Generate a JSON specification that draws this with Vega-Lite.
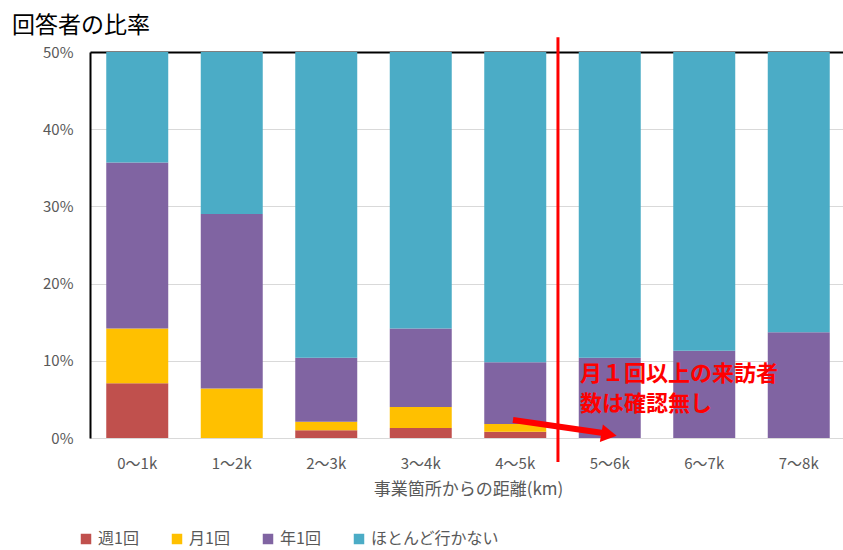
{
  "$schema": "https://vega.github.io/schema/vega-lite/v6.json",
  "autosize": "none",
  "width": 756,
  "height": 386,
  "padding": {"left": 90, "top": 52, "right": 0, "bottom": 112},
  "background": "white",
  "config": {"font": "Noto Sans CJK JP", "view": {"stroke": null}},
  "title": {"text": "回答者の比率", "anchor": "start", "frame": "group", "dx": -78, "offset": -2, "fontSize": 23, "fontWeight": "normal", "color": "#000000"},
  "datasets": {
    "bars": [
      {"dist": "0〜1k", "cat": "週1回", "ord": 1, "val": 7.1},
      {"dist": "0〜1k", "cat": "月1回", "ord": 2, "val": 7.1},
      {"dist": "0〜1k", "cat": "年1回", "ord": 3, "val": 21.5},
      {"dist": "0〜1k", "cat": "ほとんど行かない", "ord": 4, "val": 14.3},
      {"dist": "1〜2k", "cat": "週1回", "ord": 1, "val": 0},
      {"dist": "1〜2k", "cat": "月1回", "ord": 2, "val": 6.4},
      {"dist": "1〜2k", "cat": "年1回", "ord": 3, "val": 22.6},
      {"dist": "1〜2k", "cat": "ほとんど行かない", "ord": 4, "val": 21.0},
      {"dist": "2〜3k", "cat": "週1回", "ord": 1, "val": 1.0},
      {"dist": "2〜3k", "cat": "月1回", "ord": 2, "val": 1.1},
      {"dist": "2〜3k", "cat": "年1回", "ord": 3, "val": 8.3},
      {"dist": "2〜3k", "cat": "ほとんど行かない", "ord": 4, "val": 39.6},
      {"dist": "3〜4k", "cat": "週1回", "ord": 1, "val": 1.3},
      {"dist": "3〜4k", "cat": "月1回", "ord": 2, "val": 2.7},
      {"dist": "3〜4k", "cat": "年1回", "ord": 3, "val": 10.2},
      {"dist": "3〜4k", "cat": "ほとんど行かない", "ord": 4, "val": 35.8},
      {"dist": "4〜5k", "cat": "週1回", "ord": 1, "val": 0.8},
      {"dist": "4〜5k", "cat": "月1回", "ord": 2, "val": 1.0},
      {"dist": "4〜5k", "cat": "年1回", "ord": 3, "val": 8.0},
      {"dist": "4〜5k", "cat": "ほとんど行かない", "ord": 4, "val": 40.2},
      {"dist": "5〜6k", "cat": "年1回", "ord": 3, "val": 10.4},
      {"dist": "5〜6k", "cat": "ほとんど行かない", "ord": 4, "val": 39.6},
      {"dist": "6〜7k", "cat": "年1回", "ord": 3, "val": 11.3},
      {"dist": "6〜7k", "cat": "ほとんど行かない", "ord": 4, "val": 38.7},
      {"dist": "7〜8k", "cat": "年1回", "ord": 3, "val": 13.7},
      {"dist": "7〜8k", "cat": "ほとんど行かない", "ord": 4, "val": 36.3}
    ],
    "vline": [{"x": 4.952, "y": 51.9, "y2": -3.1}],
    "shaft": [{"x": 4.476, "y": 2.33, "x2": 5.43, "y2": 0.65}],
    "head": [{"x": 5.492, "y": 0.45}],
    "note": [
      {"x": 5.185, "y": 8.35, "label": "月１回以上の来訪者"},
      {"x": 5.185, "y": 4.45, "label": "数は確認無し"}
    ]
  },
  "layer": [
    {
      "data": {"name": "bars"},
      "mark": {"type": "bar"},
      "encoding": {
        "x": {
          "field": "dist", "type": "nominal",
          "sort": ["0〜1k", "1〜2k", "2〜3k", "3〜4k", "4〜5k", "5〜6k", "6〜7k", "7〜8k"],
          "scale": {"paddingInner": 0.344, "paddingOuter": 0.172},
          "axis": {"title": "事業箇所からの距離(km)", "labelAngle": 0, "ticks": false, "domainColor": "#d9d9d9", "domainWidth": 1, "labelFontSize": 15, "labelColor": "#595959", "labelPadding": 18, "titleFontSize": 17, "titleFontWeight": "normal", "titleColor": "#595959", "titlePadding": 10}
        },
        "y": {
          "field": "val", "type": "quantitative", "stack": "zero",
          "scale": {"domain": [0, 50], "nice": false},
          "axis": {"values": [0, 10, 20, 30, 40, 50], "labelExpr": "datum.value + '%'", "title": null, "ticks": false, "domainColor": "#000000", "domainWidth": 2, "gridColor": "#d9d9d9", "labelFontSize": 15, "labelColor": "#595959", "labelPadding": 17}
        },
        "color": {
          "field": "cat", "type": "nominal",
          "scale": {"domain": ["週1回", "月1回", "年1回", "ほとんど行かない"], "range": ["#C0504D", "#FFC000", "#8064A2", "#4BACC6"]},
          "legend": {"orient": "none", "legendX": -12, "legendY": 479, "direction": "horizontal", "title": null, "symbolType": "square", "symbolSize": 110, "symbolStrokeWidth": 0, "labelFontSize": 16, "labelColor": "#595959", "columnPadding": 30, "labelOffset": 4}
        },
        "order": {"field": "ord", "type": "quantitative"}
      }
    },
    {
      "data": {"name": "vline"},
      "mark": {"type": "rule", "color": "#FF0000", "strokeWidth": 3},
      "encoding": {
        "x": {"field": "x", "type": "quantitative", "scale": {"domain": [0, 8], "nice": false, "zero": false}, "axis": {"orient": "top", "labels": false, "ticks": false, "grid": false, "domainColor": "#000000", "domainWidth": 2, "title": null}},
        "y": {"field": "y", "type": "quantitative", "scale": {"domain": [0, 50], "nice": false}, "axis": {"values": [0, 10, 20, 30, 40, 50], "labelExpr": "datum.value + '%'", "title": null, "ticks": false, "domainColor": "#000000", "domainWidth": 2, "gridColor": "#d9d9d9", "labelFontSize": 15, "labelColor": "#595959", "labelPadding": 17}},
        "y2": {"field": "y2"}
      }
    },
    {
      "data": {"name": "shaft"},
      "mark": {"type": "rule", "color": "#FF0000", "strokeWidth": 6},
      "encoding": {
        "x": {"field": "x", "type": "quantitative", "scale": {"domain": [0, 8], "nice": false, "zero": false}, "axis": null},
        "x2": {"field": "x2"},
        "y": {"field": "y", "type": "quantitative", "scale": {"domain": [0, 50], "nice": false}, "axis": {"values": [0, 10, 20, 30, 40, 50], "labelExpr": "datum.value + '%'", "title": null, "ticks": false, "domainColor": "#000000", "domainWidth": 2, "gridColor": "#d9d9d9", "labelFontSize": 15, "labelColor": "#595959", "labelPadding": 17}},
        "y2": {"field": "y2"}
      }
    },
    {
      "data": {"name": "head"},
      "mark": {"type": "point", "shape": "triangle-right", "filled": true, "color": "#FF0000", "size": 320, "angle": 9.7, "opacity": 1},
      "encoding": {
        "x": {"field": "x", "type": "quantitative", "scale": {"domain": [0, 8], "nice": false, "zero": false}, "axis": null},
        "y": {"field": "y", "type": "quantitative", "scale": {"domain": [0, 50], "nice": false}, "axis": {"values": [0, 10, 20, 30, 40, 50], "labelExpr": "datum.value + '%'", "title": null, "ticks": false, "domainColor": "#000000", "domainWidth": 2, "gridColor": "#d9d9d9", "labelFontSize": 15, "labelColor": "#595959", "labelPadding": 17}}
      }
    },
    {
      "data": {"name": "note"},
      "mark": {"type": "text", "color": "#FF0000", "fontSize": 22, "fontWeight": "bold", "align": "left", "baseline": "middle"},
      "encoding": {
        "x": {"field": "x", "type": "quantitative", "scale": {"domain": [0, 8], "nice": false, "zero": false}, "axis": null},
        "y": {"field": "y", "type": "quantitative", "scale": {"domain": [0, 50], "nice": false}, "axis": {"values": [0, 10, 20, 30, 40, 50], "labelExpr": "datum.value + '%'", "title": null, "ticks": false, "domainColor": "#000000", "domainWidth": 2, "gridColor": "#d9d9d9", "labelFontSize": 15, "labelColor": "#595959", "labelPadding": 17}},
        "text": {"field": "label"}
      }
    }
  ],
  "resolve": {"scale": {"x": "independent"}, "axis": {"x": "independent"}}
}
